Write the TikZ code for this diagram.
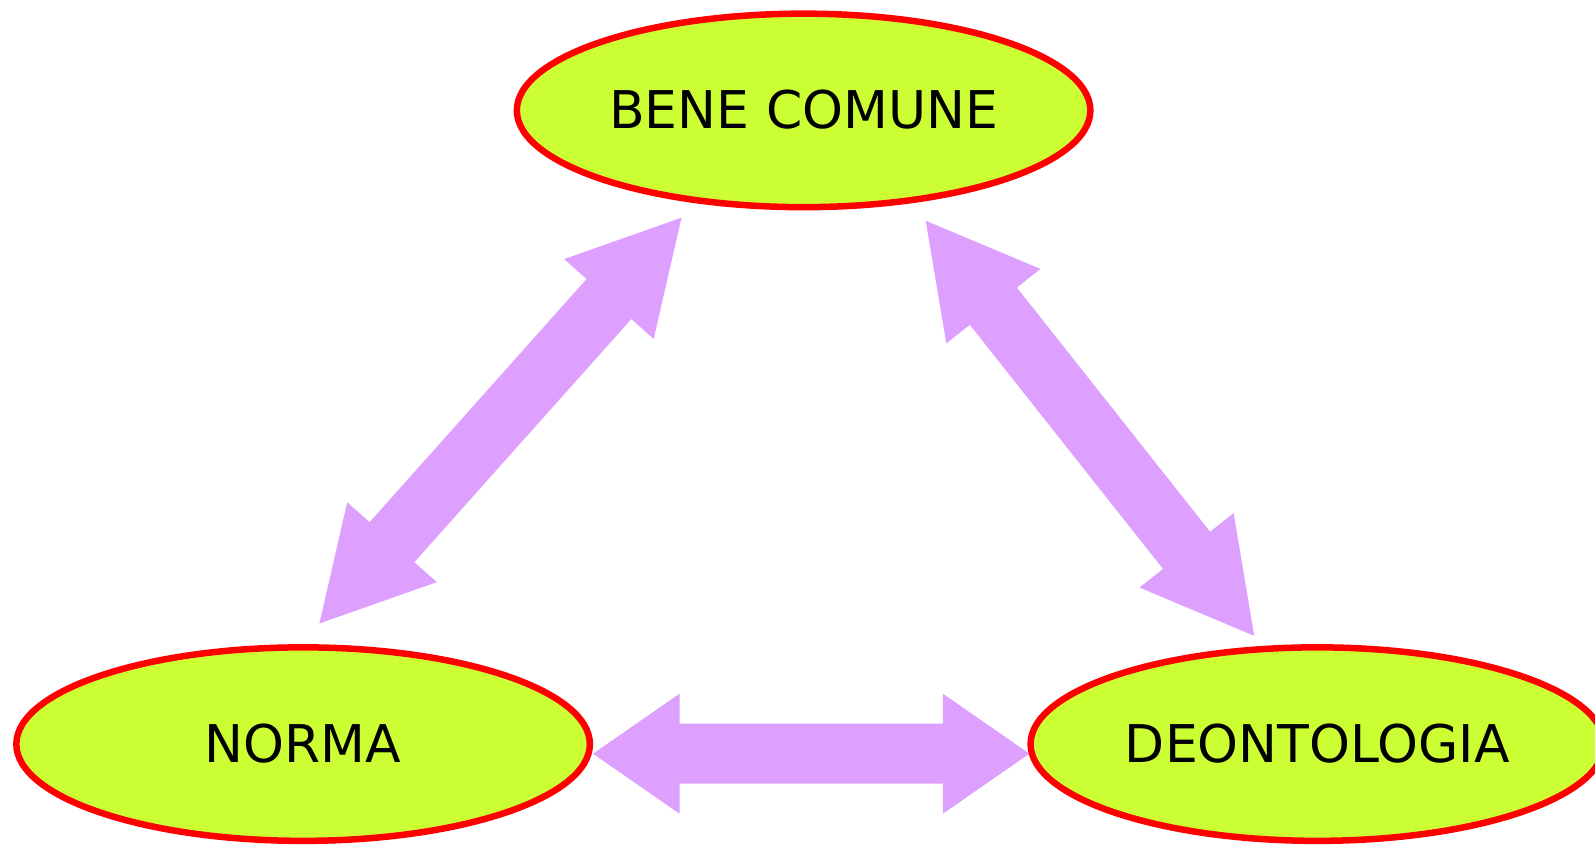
\documentclass[tikz,border=0pt]{standalone}
\usepackage{fontspec}
\setmainfont{DejaVu Sans}
\usetikzlibrary{shapes.geometric,calc}
\definecolor{ellfill}{HTML}{CCFF33}
\definecolor{ellline}{HTML}{FF0000}
\definecolor{arrcol}{HTML}{DDA0FF}
\tikzset{
  concept/.style={ellipse, fill=ellfill, draw=ellline, line width=6.5pt,
    minimum width=573.5pt, minimum height=193.5pt, inner sep=0pt,
    font=\fontsize{52}{60}\selectfont, text=black},
  bigarrow/.style={fill=arrcol, draw=none}
}
\newcommand{\dblarrow}[3]{%
  \path coordinate (hA) at ($(#1)!#3!(#2)$)
        coordinate (hB) at ($(#2)!#3!(#1)$);
  \fill[bigarrow] (#1)
    -- ($(hA)!60pt!90:(#2)$) -- ($(hA)!30pt!90:(#2)$)
    -- ($(hB)!30pt!-90:(#1)$) -- ($(hB)!60pt!-90:(#1)$)
    -- (#2)
    -- ($(hB)!60pt!90:(#1)$) -- ($(hB)!30pt!90:(#1)$)
    -- ($(hA)!30pt!-90:(#2)$) -- ($(hA)!60pt!-90:(#2)$)
    -- cycle;}
\begin{document}
\begin{tikzpicture}[x=1pt,y=-1pt]
\useasboundingbox (0,0) rectangle (1595,846);
\coordinate (l1) at (681.5,217.7);
\coordinate (l2) at (319.4,623.5);
\coordinate (r1) at (925.7,220.7);
\coordinate (r2) at (1254.2,635.8);
\coordinate (h1) at (593.0,753.7);
\coordinate (h2) at (1029.4,753.7);
\dblarrow{l1}{l2}{109pt}
\dblarrow{r1}{r2}{109pt}
\dblarrow{h1}{h2}{86.5pt}
\node[concept] (bene) at (803.6,110.4) {\raisebox{2pt}{BENE COMUNE}};
\node[concept] (norma) at (303.1,744.1) {\raisebox{2pt}{NORMA}};
\node[concept] (deon) at (1317.3,744.1) {\raisebox{2pt}{DEONTOLOGIA}};
\end{tikzpicture}
\end{document}
